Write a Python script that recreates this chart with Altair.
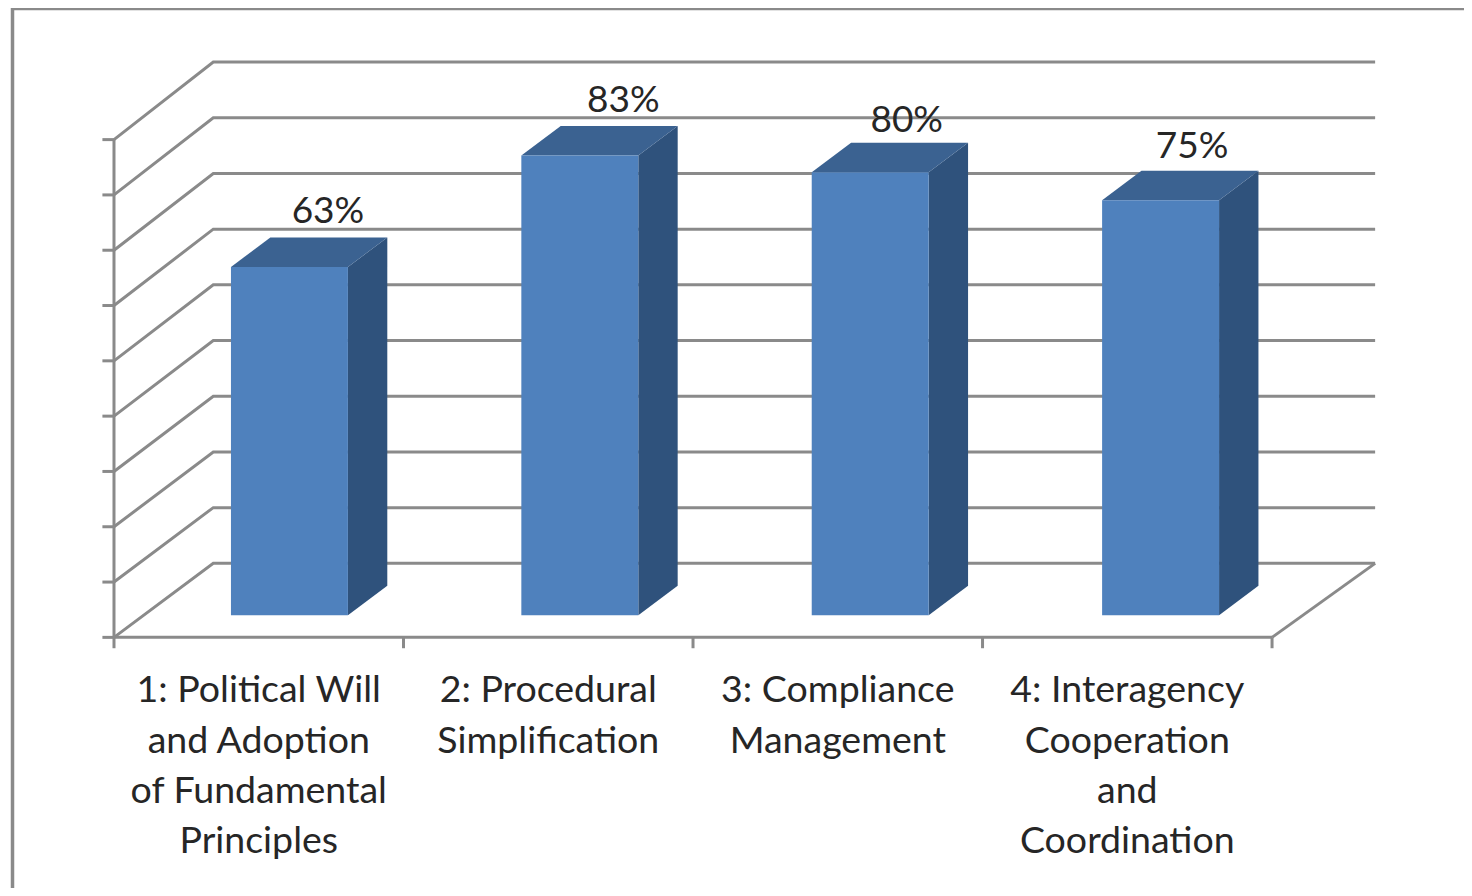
import altair as alt
import pandas as pd

categories = ["1: Political Will", "2: Procedural", "3: Compliance", "4: Interagency"]
label_lines = [
    ["1: Political Will", "and Adoption", "of Fundamental", "Principles"],
    ["2: Procedural", "Simplification"],
    ["3: Compliance", "Management"],
    ["4: Interagency", "Cooperation", "and", "Coordination"],
]
values = [63, 83, 80, 75]
value_labels = ["63%", "83%", "80%", "75%"]
levels = [0, 10, 20, 30, 40, 50, 60, 70, 80, 90]

# projection of the fake 3-D box, in scale units
W, H = 1456, 880
X_DOM = [-0.3661, 4.663]
Y_DOM = [-45.0, 113.0]
BACK_DX, BACK_DY = 0.343, 13.29
BACK_END = 4.356
FRONT_K = 0.993
BAR_OFF, BAR_W, BAR_STEP = 0.404, 0.404, 1.003
BAR_DX, BAR_DY = 0.136, 5.3
BAR_BASE, BAR_LIFT = 3.95, 3.5
GRID = "#8a8a8a"
FONT = "Lato"
TXT = "#262626"

xs = alt.Scale(domain=X_DOM, nice=False, zero=False)
ys = alt.Scale(domain=Y_DOM, nice=False, zero=False)
X = lambda f: alt.X(f, type="quantitative", scale=xs, axis=None)
Y = lambda f: alt.Y(f, type="quantitative", scale=ys, axis=None)

grid_rows = []
for v in levels:
    vf = v * FRONT_K
    grid_rows += [
        {"g": v, "i": 0, "x": 0, "y": vf},
        {"g": v, "i": 1, "x": BACK_DX, "y": v + BACK_DY},
        {"g": v, "i": 2, "x": BACK_END, "y": v + BACK_DY},
    ]
grid_rows += [
    {"g": "front", "i": 0, "x": 0, "y": 0},
    {"g": "front", "i": 1, "x": 4, "y": 0},
    {"g": "right", "i": 0, "x": 4, "y": 0},
    {"g": "right", "i": 1, "x": BACK_END, "y": BACK_DY},
    {"g": "wall", "i": 0, "x": 0, "y": 0},
    {"g": "wall", "i": 1, "x": 0, "y": 90 * FRONT_K},
]
grid = alt.Chart(pd.DataFrame(grid_rows)).mark_line(color=GRID, strokeWidth=3).encode(
    x=X("x"), y=Y("y"), detail="g:N", order="i:Q"
)

ytick_rows = [{"x": -0.04, "x2": 0.0, "y": v * FRONT_K} for v in levels]
yticks = alt.Chart(pd.DataFrame(ytick_rows)).mark_rule(color=GRID, strokeWidth=3).encode(
    x=X("x"), x2="x2:Q", y=Y("y")
)
xtick_rows = [{"x": i, "y": 0, "y2": -1.95} for i in range(5)]
xticks = alt.Chart(pd.DataFrame(xtick_rows)).mark_rule(color=GRID, strokeWidth=3).encode(
    x=X("x"), y=Y("y"), y2="y2:Q"
)

front, side, top = [], [], []
for c, v in enumerate(values):
    l = c * BAR_STEP + BAR_OFF
    r = l + BAR_W
    t = v + BAR_LIFT
    front.append({"x": l, "x2": r, "y": t, "y2": BAR_BASE})
    side += [
        {"b": c, "x": r, "y": t, "y2": BAR_BASE},
        {"b": c, "x": r + BAR_DX, "y": t + BAR_DY, "y2": BAR_BASE + BAR_DY},
    ]
    top += [
        {"b": c, "y": t, "x": l, "x2": r},
        {"b": c, "y": t + BAR_DY, "x": l + BAR_DX, "x2": r + BAR_DX},
    ]

side_m = alt.Chart(pd.DataFrame(side)).mark_area(color="#2f527c", orient="vertical").encode(
    x=X("x"), y=Y("y"), y2="y2:Q", detail="b:N"
)
top_m = alt.Chart(pd.DataFrame(top)).mark_area(color="#3b6291", orient="horizontal").encode(
    y=Y("y"), x=X("x"), x2="x2:Q", detail="b:N"
)
front_m = alt.Chart(pd.DataFrame(front)).mark_rect(color="#4f81bd").encode(
    x=X("x"), x2="x2:Q", y=Y("y"), y2="y2:Q"
)

value_layers = []
for c, (v, s, ndx, ndy) in enumerate(zip(values, value_labels, [0, 5, -2, -7], [0, 0, 4, 1.5])):
    d = pd.DataFrame([{"x": c * BAR_STEP + BAR_OFF + 0.335, "y": v + BAR_LIFT + 9.87, "t": s}])
    value_layers.append(
        alt.Chart(d).mark_text(font=FONT, fontSize=37, color=TXT, dx=ndx, dy=ndy,
                               align="center", baseline="middle").encode(
            x=X("x"), y=Y("y"), text="t:N")
    )

label_rows = []
for c, lines in enumerate(label_lines):
    for i, line in enumerate(lines):
        label_rows.append({"x": c + 0.5, "y": -9.7 - 9.03 * i, "t": line})
labels = alt.Chart(pd.DataFrame(label_rows)).mark_text(
    font=FONT, fontSize=37.5, color=TXT, align="center", baseline="middle"
).encode(x=X("x"), y=Y("y"), text="t:N")

border_l = alt.Chart(pd.DataFrame({"a": [0]})).mark_rule(color="#8a8a8a", strokeWidth=3.5).encode(
    x=alt.value(4.5), y=alt.value(0), y2=alt.value(H)
)
border_t = alt.Chart(pd.DataFrame({"a": [0]})).mark_rule(color="#8a8a8a", strokeWidth=3.5).encode(
    y=alt.value(0.5), x=alt.value(4.5), x2=alt.value(W)
)

chart = alt.layer(
    border_l, border_t, grid, yticks, xticks, side_m, top_m, front_m, labels, *value_layers
).properties(
    width=W, height=H, padding=0, autosize=alt.AutoSizeParams(type="none"),
    background="white"
).configure_view(stroke=None)

chart.save("out.html", embed_options={"renderer": "svg", "actions": False})
